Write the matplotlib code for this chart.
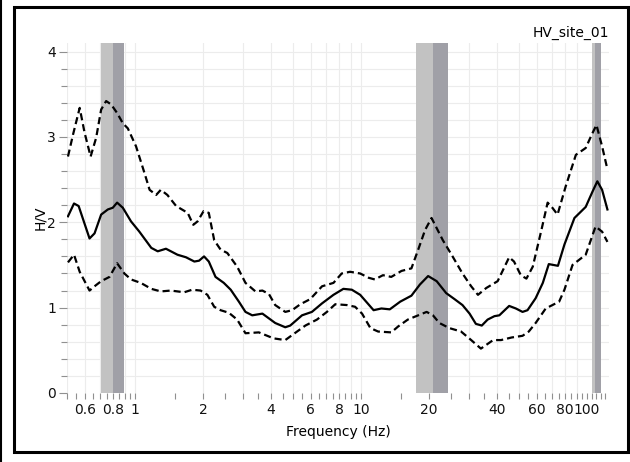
import numpy as np
import matplotlib
matplotlib.use("Agg")
import matplotlib.pyplot as plt
from matplotlib.patches import Rectangle
from matplotlib.lines import Line2D

# median H/V curve
freq_med = [0.505, 0.537, 0.563, 0.629, 0.662, 0.708, 0.758, 0.797, 0.833, 0.883,
            0.96, 1.045, 1.18, 1.26, 1.37, 1.54, 1.68, 1.83, 1.92, 2.02, 2.12,
            2.27, 2.47, 2.65, 2.88, 3.08, 3.30, 3.66, 4.17, 4.62, 4.86, 5.48,
            6.06, 6.72, 7.55, 8.35, 9.10, 9.91, 11.36, 12.3, 13.4, 14.9, 16.7,
            18.2, 19.8, 21.6, 23.8, 25.9, 28.1, 30.2, 32.2, 34.2, 36.3, 38.9,
            40.9, 45.2, 48.4, 51.8, 54.5, 59.2, 63.7, 67.7, 74.3, 79.4, 87.9,
            98.6, 105.7, 111, 116.5, 123]
hv_med = [2.07, 2.22, 2.19, 1.81, 1.87, 2.09, 2.15, 2.17, 2.23, 2.17,
          2.01, 1.89, 1.70, 1.66, 1.69, 1.62, 1.59, 1.54, 1.55, 1.60, 1.54,
          1.36, 1.29, 1.21, 1.07, 0.95, 0.91, 0.93, 0.82, 0.77, 0.79, 0.91,
          0.95, 1.05, 1.15, 1.22, 1.21, 1.15, 0.97, 0.99, 0.98, 1.07, 1.14,
          1.27, 1.37, 1.31, 1.17, 1.10, 1.03, 0.93, 0.81, 0.79, 0.86, 0.90,
          0.91, 1.02, 0.99, 0.95, 0.97, 1.11, 1.29, 1.51, 1.49, 1.74, 2.05,
          2.18, 2.36, 2.48, 2.38, 2.15]

# upper (+1 std) curve
freq_up = [0.505, 0.532, 0.569, 0.598, 0.636, 0.673, 0.708, 0.745, 0.784, 0.833,
           0.883, 0.929, 1.01, 1.10, 1.16, 1.24, 1.30, 1.39, 1.52, 1.71, 1.81,
           1.89, 2.01, 2.12, 2.24, 2.39, 2.56, 2.83, 3.08, 3.41, 3.66, 3.91,
           4.17, 4.62, 4.95, 5.39, 5.96, 6.72, 7.55, 8.21, 8.94, 9.91, 10.8,
           11.5, 12.5, 13.6, 15.1, 16.7, 17.9, 19.2, 20.5, 23.0, 25.4, 28.1,
           30.7, 32.9, 35.8, 40.2, 45.2, 47.5, 50.9, 53.9, 57.5, 62.8, 66.9,
           70.2, 74.0, 80.4, 89.2, 98.6, 105, 110, 116.5, 123]
hv_up = [2.77, 3.03, 3.34, 3.05, 2.77, 2.99, 3.32, 3.42, 3.38, 3.28,
         3.16, 3.10, 2.89, 2.58, 2.38, 2.32, 2.38, 2.32, 2.19, 2.11, 1.97,
         2.01, 2.13, 2.11, 1.79, 1.68, 1.64, 1.48, 1.29, 1.19, 1.20, 1.16,
         1.03, 0.95, 0.97, 1.04, 1.10, 1.25, 1.29, 1.40, 1.42, 1.40, 1.35,
         1.33, 1.38, 1.36, 1.43, 1.46, 1.68, 1.91, 2.05, 1.79, 1.60, 1.40,
         1.25, 1.15, 1.23, 1.31, 1.59, 1.54, 1.38, 1.34, 1.48, 1.91, 2.23,
         2.17, 2.09, 2.42, 2.79, 2.87, 3.03, 3.14, 2.89, 2.62]

# lower (-1 std) curve
freq_lo = [0.505, 0.537, 0.569, 0.629, 0.662, 0.708, 0.771, 0.833, 0.897, 0.96,
           1.06, 1.18, 1.30, 1.44, 1.65, 1.79, 1.95, 2.09, 2.24, 2.39, 2.60,
           2.83, 3.08, 3.53, 4.10, 4.62, 5.21, 5.67, 6.38, 7.06, 7.69, 8.66,
           9.41, 10.1, 11.0, 11.9, 13.6, 14.6, 16.1, 17.9, 19.5, 20.8, 22.2,
           24.6, 27.7, 30.7, 33.9, 38.4, 41.6, 46.3, 51.8, 55.2, 59.2, 65.6,
           75.2, 79.4, 86.2, 98.6, 109, 116.5, 123]
hv_lo = [1.53, 1.62, 1.42, 1.20, 1.25, 1.31, 1.36, 1.52, 1.40, 1.33,
         1.29, 1.22, 1.19, 1.20, 1.18, 1.21, 1.20, 1.15, 1.01, 0.97, 0.94,
         0.86, 0.70, 0.71, 0.64, 0.62, 0.72, 0.79, 0.86, 0.95, 1.04, 1.03,
         1.01, 0.93, 0.76, 0.72, 0.71, 0.78, 0.86, 0.91, 0.95, 0.91, 0.82,
         0.76, 0.72, 0.62, 0.52, 0.62, 0.62, 0.65, 0.67, 0.72, 0.82, 0.99,
         1.07, 1.21, 1.50, 1.62, 1.95, 1.89, 1.77]

# peak frequency bands: (lower, peak, upper)
peaks = [(0.708, 0.80, 0.895), (17.5, 20.8, 24.2), (105, 108.5, 115)]

xtick_labels = [0.6, 0.8, 1, 2, 4, 6, 8, 10, 20, 40, 60, 80, 100]
title = "HV_site_01"

plt.rcParams['font.family'] = ['DejaVu Sans']

fig = plt.figure(figsize=(6.3, 4.62), dpi=100)
ax = fig.add_axes([67 / 630, 1 - 393 / 462, (609 - 67) / 630, (393 - 43) / 462])

for lo, pk, hi in peaks:
    ax.axvspan(lo, pk, color='#c2c2c2', lw=0, zorder=1)
    ax.axvspan(pk, hi, color='#a0a0a7', lw=0, zorder=1)

ax.plot(freq_up, hv_up, color='black', lw=1.6, ls=(0, (3.2, 1.8)), zorder=3)
ax.plot(freq_lo, hv_lo, color='black', lw=1.6, ls=(0, (3.2, 1.8)), zorder=3)
ax.plot(freq_med, hv_med, color='black', lw=1.6, zorder=3)

ax.set_xscale('log')
ax.set_xlim(0.5, 125)
ax.set_ylim(0, 4.1)

# grid lines
gx = [m * d for d in (0.1, 1, 10) for m in range(1, 10) if 0.5 <= m * d <= 125]
for g in gx:
    ax.axvline(g, color='#ececec', lw=0.8, zorder=0)
for g in np.arange(0.2, 4.01, 0.2):
    ax.axhline(g, color='#ececec', lw=0.8, zorder=0)

ax.set_xticks(xtick_labels)
ax.set_xticklabels([f"{t:g}" for t in xtick_labels])
minor_x = [v for v in np.concatenate([np.arange(0.5, 1.0, 0.05), np.arange(1, 10, 0.5),
                                      np.arange(10, 100, 5), [100, 105, 110, 115, 120]])
           if v not in xtick_labels]
ax.set_xticks(minor_x, minor=True)
ax.set_yticks([0, 1, 2, 3, 4])
ax.set_yticks(np.arange(0.2, 4.01, 0.2), minor=True)
ax.xaxis.set_minor_formatter(matplotlib.ticker.NullFormatter())

ax.tick_params(which='both', color='#909090', width=0.8, labelsize=10, labelcolor='#111111')
ax.tick_params(axis='x', which='both', length=4, pad=3)
ax.tick_params(axis='y', which='major', length=6, pad=2)
ax.tick_params(axis='y', which='minor', length=4)
for s in ax.spines.values():
    s.set_visible(False)

ax.set_xlabel("Frequency (Hz)", fontsize=10, labelpad=6)
ax.set_ylabel("H/V", fontsize=10, labelpad=0)
ax.text(1.0, 1.01, title, transform=ax.transAxes, ha='right', va='bottom', fontsize=10)

# figure frame
fig.patches.append(Rectangle((13.5 / 630, 1 - 451.5 / 462), (627.5 - 13.5) / 630, (451.5 - 6.5) / 462,
                             transform=fig.transFigure, fill=False, ec='black', lw=2.2))
fig.lines.append(Line2D([1 / 630, 1 / 630], [0, 1], transform=fig.transFigure, color='black', lw=1.5))

fig.savefig("out.png", dpi=100)
